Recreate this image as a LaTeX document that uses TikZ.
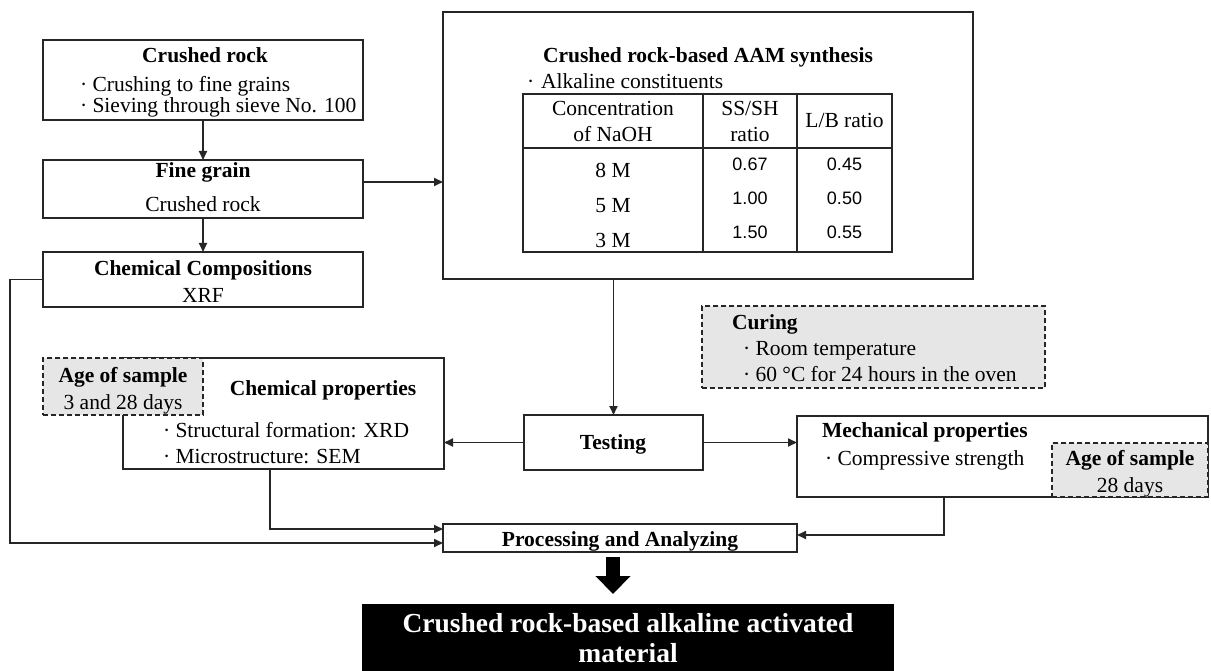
\documentclass[tikz,border=0pt]{standalone}
\usepackage{fontspec}
\setmainfont{Liberation Serif}
\newfontfamily\arialf{Liberation Sans}
\usetikzlibrary{arrows.meta}
\definecolor{boxgray}{HTML}{E6E6E6}
\definecolor{linec}{HTML}{262626}
\tikzset{
  box/.style={draw=linec, line width=1.5pt, inner sep=0pt, outer sep=0pt, anchor=north west},
  dbox/.style={box, fill=boxgray, dash pattern=on 5pt off 3pt},
  txt/.style={inner sep=0pt, outer sep=0pt, anchor=base, font=\fontsize{21.5}{24}\selectfont},
  txtl/.style={txt, anchor=base west},
  num/.style={txt, font=\arialf\fontsize{18}{20}\selectfont},
  arr/.style={draw=linec, line width=1.9pt, -{Triangle[length=9pt,width=8pt]}},
  tbl/.style={draw=linec, line width=1.5pt},
}
\begin{document}
\begin{tikzpicture}[x=1pt,y=-1pt]
\useasboundingbox (0,0) rectangle (1211,671);
% helper coordinates
\coordinate (yB) at (0,182);
\coordinate (xL) at (10,0);
\coordinate (yP1) at (0,529);
\coordinate (yP2) at (0,543);
\coordinate (yP3) at (0,535);
\coordinate (xF) at (270,0);
\coordinate (xG) at (944,0);

% boxes
\node[box, minimum width=320pt, minimum height=80pt] (A) at (43,40) {};
\node[box, minimum width=320pt, minimum height=58pt] (B) at (43,160) {};
\node[box, minimum width=320pt, minimum height=55pt] (C) at (43,252) {};
\node[box, minimum width=530pt, minimum height=267pt] (D) at (443,12) {};
\node[box, minimum width=179pt, minimum height=55pt] (E) at (524,415) {};
\node[box, minimum width=321pt, minimum height=111pt] (F) at (123,358) {};
\node[dbox, minimum width=160pt, minimum height=57pt] (AG1) at (43,358) {};
\node[dbox, minimum width=343pt, minimum height=82pt] (CU) at (702,306) {};
\node[box, minimum width=411pt, minimum height=81pt] (G) at (797,416) {};
\node[dbox, minimum width=156pt, minimum height=54pt] (AG2) at (1052,443) {};
\node[box, minimum width=354pt, minimum height=28pt] (P) at (443,524) {};
\node[box, draw=black, fill=black, minimum width=530pt, minimum height=68pt] (K) at (363,605) {};

% table
\draw[tbl] (523,94) rectangle (892,252);
\draw[tbl] (703,94) -- (703,252);
\draw[tbl] (797,94) -- (797,252);
\draw[tbl] (523,148) -- (892,148);

% texts: crushed rock
\node[txt] (a1) at (205,63) {\textbf{Crushed rock}};
\node[txtl] (a2) at (80,92) {· Crushing to fine grains};
\node[txtl] (a3) at (80,113) {· Sieving through sieve No. 100};
% fine grain
\node[txt] (b1) at (203,178) {\textbf{Fine grain}};
\node[txt] (b2) at (203,212) {Crushed rock};
% chemical compositions
\node[txt] (c1) at (203,276) {\textbf{Chemical Compositions}};
\node[txt] (c2) at (203,302) {XRF};
% AAM synthesis
\node[txt] (d1) at (708,63) {\textbf{Crushed rock-based AAM synthesis}};
\node[txtl] (d2) at (527,89) {·\hspace{7pt}Alkaline constituents};
\node[txt] (t11) at (613,116) {Concentration};
\node[txt] (t12) at (613,142) {of NaOH};
\node[txt] (t21) at (750,116) {SS/SH};
\node[txt] (t22) at (750,142) {ratio};
\node[txt] (t31) at (844.5,128) {L/B ratio};
\node[txt] (r1) at (613,178) {8 M};
\node[txt] (r2) at (613,213) {5 M};
\node[txt] (r3) at (613,248) {3 M};
\node[num] (n11) at (750,171) {0.67};
\node[num] (n12) at (844.5,171) {0.45};
\node[num] (n21) at (750,205) {1.00};
\node[num] (n22) at (844.5,205) {0.50};
\node[num] (n31) at (750,239) {1.50};
\node[num] (n32) at (844.5,239) {0.55};
% curing
\node[txtl] (cu1) at (732,330) {\textbf{Curing}};
\node[txtl] (cu2) at (743,355) {· Room temperature};
\node[txtl] (cu3) at (743,381) {· 60 °C for 24 hours in the oven};
% chemical properties
\node[txt] (f1) at (323,395) {\textbf{Chemical properties}};
\node[txtl] (f2) at (163,437) {· Structural formation: XRD};
\node[txtl] (f3) at (163,463) {· Microstructure: SEM};
\node[txt] (g11) at (123,382) {\textbf{Age of sample}};
\node[txt] (g12) at (123,409) {3 and 28 days};
% testing
\node[txt] (e1) at (613,449) {\textbf{Testing}};
% mechanical
\node[txtl] (m1) at (822,437) {\textbf{Mechanical properties}};
\node[txtl] (m2) at (825,465) {· Compressive strength};
\node[txt] (g21) at (1130,465) {\textbf{Age of sample}};
\node[txt] (g22) at (1130,492) {28 days};
% processing
\node[txt] (p1) at (620,546) {\textbf{Processing and Analyzing}};
% result
\node[txt, text=white, font=\fontsize{27.5}{30}\selectfont\bfseries] (k1) at (628,632) {Crushed rock-based alkaline activated};
\node[txt, text=white, font=\fontsize{27.5}{30}\selectfont\bfseries] (k2) at (628,662) {material};

% connectors
\draw[arr] (A.south) -- (B.north);
\draw[arr] (B.south) -- (C.north);
\draw[arr] (B.east |- yB) -- (D.west |- yB);
\draw[arr] (D.south -| E.north) -- (E.north);
\draw[arr] (E.west) -- (E.west -| F.east);
\draw[arr] (E.east) -- (E.east -| G.west);
\draw[arr] (C.west) -- (C.west -| xL) -- (xL |- yP2) -- (P.west |- yP2);
\draw[arr] (F.south -| xF) -- (xF |- yP1) -- (P.west |- yP1);
\draw[arr] (G.south -| xG) -- (xG |- yP3) -- (P.east |- yP3);
% thick arrow
\coordinate (T1) at (613,557);
\coordinate (T2) at (613,594);
\draw[line width=14pt, -{Triangle[width=34pt,length=18pt]}] (T1) -- (T2);
\end{tikzpicture}
\end{document}
